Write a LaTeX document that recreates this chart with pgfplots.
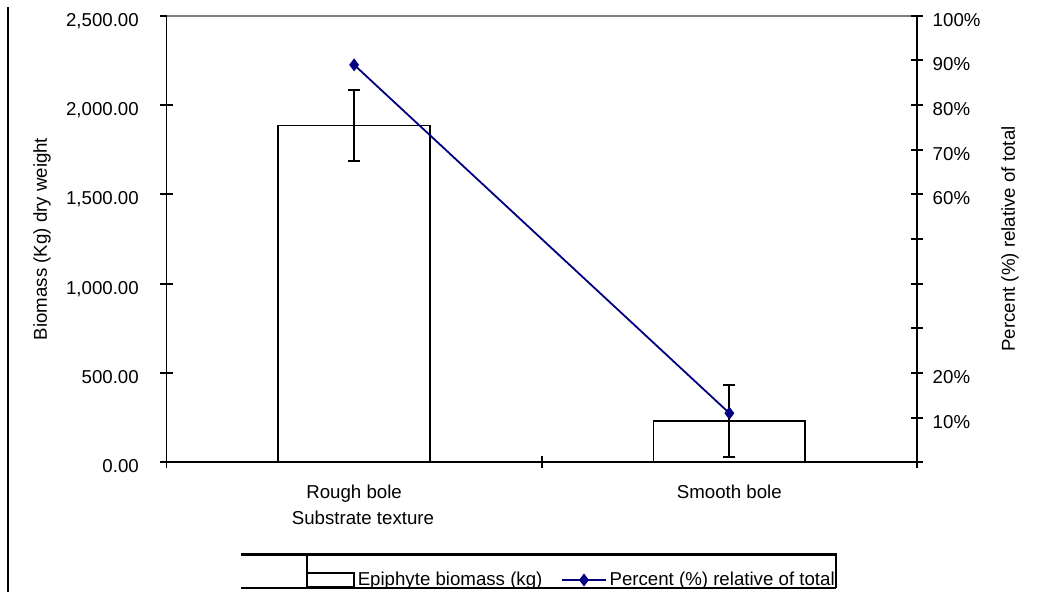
\documentclass[border=0pt]{standalone}
\usepackage{pgfplots}
\pgfplotsset{compat=1.18}
\usepackage{fontspec}
\setmainfont{Liberation Sans}
\definecolor{navyline}{RGB}{0,0,128}
\begin{document}
\fontsize{14pt}{16.5pt}\selectfont
\begin{tikzpicture}
\begin{scope}[x=0.75pt,y=-0.75pt]
\path[use as bounding box] (0,0) rectangle (1037,592);
\end{scope}
\begin{axis}[
  at={(124.875pt,-346.725pt)}, anchor=south west,
  scale only axis, width=562.875pt, height=334.95pt,
  xmin=0, xmax=2, ymin=0, ymax=2500,
  axis x line*=bottom, axis y line*=left,
  axis line style={-, black, line width=1.35pt},
  clip=false,
  xtick={0,1,2}, xticklabels={},
  xtick align=center, ytick align=center,
  major tick length=9pt,
  tick style={black, line width=1.35pt},
  extra x ticks={0.5,1.5},
  extra x tick labels={Rough bole,Smooth bole},
  extra x tick style={major tick length=0pt, xticklabel style={anchor=base, inner sep=0pt, yshift=-26.8pt}},
  ytick={0,500,...,2500},
  scaled y ticks=false,
  /pgf/number format/assume math mode=true,
  yticklabel style={/pgf/number format/.cd, fixed, fixed zerofill, precision=2, 1000 sep={,}, /tikz/.cd, anchor=base east, inner sep=0pt, xshift=-16.1pt, yshift=-7.9pt},
  xlabel={Substrate texture},
  ylabel={Biomass (Kg) dry weight},
  every axis y label/.style={at={(rel axis cs:-0.1659,0.5)}, rotate=90, anchor=center},
  every axis x label/.style={at={(rel axis cs:0.2618,-0.1247)}, anchor=center},
]
\addplot[ybar, fill=white, draw=black, line width=1.35pt, bar width=113.8pt,
  error bars/.cd, y dir=both, y explicit,
  error bar style={line width=1.35pt, black},
  error mark options={rotate=90, mark size=4.5pt, line width=1.35pt, black}]
 coordinates {(0.5,1885) +- (0,198) (1.5,232) +- (0,203)};
\draw[gray, line width=1.35pt] (rel axis cs:0,1) -- (rel axis cs:1,1);
\end{axis}
\begin{axis}[
  at={(124.875pt,-346.725pt)}, anchor=south west,
  scale only axis, width=562.875pt, height=334.95pt,
  xmin=0, xmax=2, ymin=0, ymax=100,
  axis x line=none, axis y line*=right,
  axis line style={-, black, line width=1.35pt},
  clip=false,
  ytick={0,10,...,100},
  yticklabels={,10\%,20\%,,,,60\%,70\%,80\%,90\%,100\%},
  ytick align=center, major tick length=9pt,
  tick style={black, line width=1.35pt},
  yticklabel style={anchor=base west, inner sep=0pt, xshift=7.1pt, yshift=-7.9pt},
  ylabel={Percent (\%) relative of total},
  every axis y label/.style={at={(rel axis cs:1.124,0.5)}, rotate=90, anchor=center},
  legend style={at={(0.5403,-0.2635)}, anchor=center, draw=none, fill=none, inner sep=0pt,
    legend columns=-1, /tikz/every even column/.append style={column sep=12pt}},
]
\addlegendimage{legend image code/.code={\draw[black, fill=white, line width=1.35pt] (0pt,-5.5pt) rectangle (35pt,5pt);}}
\addlegendentry{Epiphyte biomass (kg)}
\addplot[navyline, line width=1.35pt, mark=diamond*, mark size=3.8pt, mark options={solid, fill=navyline},
  legend image code/.code={\draw[mark repeat=2, mark phase=2] plot coordinates {(0pt,0pt) (16.5pt,0pt) (33pt,0pt)};}]
 coordinates {(0.5,89) (1.5,11)};
\addlegendentry{Percent (\%) relative of total}
\end{axis}
\begin{scope}[x=0.75pt,y=-0.75pt, line width=1.6pt]
\draw (8,7) -- (8,592);
\draw (241,554.5) -- (836,554.5);
\draw (241,588) -- (836,588);
\draw (307,553) -- (307,588);
\draw (836,553) -- (836,588);
\end{scope}
\end{tikzpicture}
\end{document}
